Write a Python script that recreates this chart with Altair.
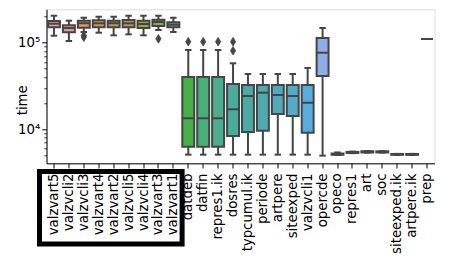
import math
import colorsys
import altair as alt
import pandas as pd

# ---------------- data ----------------
cats = ["valzvart5", "valzvcli2", "valzvcli3", "valzvart4", "valzvart2", "valzvcli5",
        "valzvcli4", "valzvart3", "valzvart1", "datdeb", "datfin", "repres1.ik",
        "dosres", "typcumul.ik", "periode", "artpere", "siteexped", "valzvcli1",
        "opercde", "opeco", "repres1", "art", "soc", "siteexped.ik", "artpere.ik", "prep"]
lo = [120400, 104600, 132900, 130500, 121800, 125000, 121800, 140200, 132900,
      5090, 5090, 5090, 5090, 5090, 5090, 5090, 5090, 5090,
      4958, 5050, 5300, 5380, 5380, 5060, 5060, 110300]
q1 = [150600, 131900, 149000, 150600, 150600, 150600, 147900, 156000, 150600,
      6297, 6297, 6297, 8367, 9307, 9634, 15020, 14240, 9135,
      41260, 5080, 5330, 5400, 5400, 5080, 5080, 110300]
med = [165800, 147900, 167500, 167500, 167500, 167500, 164400, 173400, 161500,
       13400, 13400, 13400, 17020, 24240, 26460, 24890, 24240, 20290,
       76650, 5150, 5400, 5480, 5480, 5130, 5130, 110300]
q3 = [178000, 158800, 179500, 181400, 179500, 182800, 179500, 184300, 172000,
      40200, 40200, 40200, 33350, 32480, 32480, 32480, 32480, 32480,
      113300, 5250, 5480, 5560, 5560, 5180, 5180, 110300]
hi = [205000, 179500, 194400, 199600, 199600, 205000, 205000, 205000, 194400,
      82400, 82400, 82400, 57800, 43500, 43500, 43500, 43500, 51050,
      147800, 5400, 5520, 5600, 5600, 5200, 5200, 110300]
out_cat = ["valzvcli3", "valzvcli3", "valzvart3", "datdeb", "datfin", "repres1.ik",
           "dosres", "dosres"]
out_val = [121000, 116000, 110900, 102700, 102700, 102700, 102700, 80800]


# ---------------- seaborn-like husl palette ----------------
_m = [[3.2406, -1.5372, -0.4986], [-0.9689, 1.8758, 0.0415], [0.0557, -0.2040, 1.0570]]
_refU, _refV, _refY, _lab_k = 0.19784, 0.46834, 1.0, 903.3


def _max_chroma(L, H):
    hrad = math.radians(H)
    sinH, cosH = math.sin(hrad), math.cos(hrad)
    sub1 = (L + 16) ** 3 / 1560896.0
    sub2 = sub1 if sub1 > 0.008856 else L / _lab_k
    result = float("inf")
    for m1, m2, m3 in _m:
        top = (0.99915 * m1 + 1.05122 * m2 + 1.14460 * m3) * sub2
        rbottom = 0.86330 * m3 - 0.17266 * m2
        lbottom = 0.12949 * m3 - 0.38848 * m1
        bottom = (rbottom * sinH + lbottom * cosH) * sub2
        for t in (0.0, 1.0):
            C = L * (top - 1.05122 * t) / (bottom + 0.17266 * sinH * t)
            if 0.0 < C < result:
                result = C
    return result


def _husl_to_rgb(H, S, L):
    C = _max_chroma(L, H) / 100.0 * S
    hrad = math.radians(H)
    U, V = math.cos(hrad) * C, math.sin(hrad) * C
    varY = ((L + 16.0) / 116.0) ** 3 if L > 8 else L / _lab_k
    varU = U / (13.0 * L) + _refU
    varV = V / (13.0 * L) + _refV
    Y = varY * _refY
    X = -(9.0 * Y * varU) / ((varU - 4.0) * varV - varU * varV)
    Z = (9.0 * Y - 15.0 * varV * Y - varV * X) / (3.0 * varV)
    out = []
    for row in _m:
        c = row[0] * X + row[1] * Y + row[2] * Z
        c = 12.92 * c if c <= 0.0031308 else 1.055 * c ** (1 / 2.4) - 0.055
        out.append(min(1.0, max(0.0, c)))
    return out


n = len(cats)
rgbs = []
for i in range(n):
    h = ((i / n + 0.01) % 1) * 359
    r, g, b = _husl_to_rgb(h, 0.9 * 99, 0.7 * 99)
    hh, ll, ss = colorsys.rgb_to_hls(r, g, b)
    rgbs.append(colorsys.hls_to_rgb(hh, ll, ss * 0.75))


def _hex(c):
    return "#%02x%02x%02x" % tuple(int(round(v * 255)) for v in c)


colors = [_hex(c) for c in rgbs]
lum = min(colorsys.rgb_to_hls(*c)[1] for c in rgbs) * 0.6
gray = _hex((lum, lum, lum))

# ---------------- chart ----------------
df = pd.DataFrame({"cat": cats, "lo": lo, "q1": q1, "med": med, "q3": q3, "hi": hi})
dout = pd.DataFrame({"cat": out_cat, "val": out_val})

FONT = "DejaVu Sans"
FS = 13.3

x_enc = alt.X("cat:N",
              scale=alt.Scale(domain=cats, paddingInner=0, paddingOuter=0),
              axis=alt.Axis(title=None, labelAngle=270, labelAlign="right",
                            labelBaseline="middle", labelFontSize=FS, labelFont=FONT,
                            labelColor="black", labelPadding=5, tickSize=4.7,
                            tickColor="black", tickWidth=1, domainColor="black",
                            labelOverlap=False, labelLimit=300))

y_scale = alt.Scale(type="log", domain=[4046, 243200], nice=False)
tick_vals = [5000, 6000, 7000, 8000, 9000, 10000, 20000, 30000, 40000, 50000,
             60000, 70000, 80000, 90000, 100000, 200000]
major = "datum.value == 10000 || datum.value == 100000"
y_axis = alt.Axis(title="time", values=tick_vals,
                  labelExpr="datum.value == 10000 ? '10\u2074' : (datum.value == 100000 ? '10\u2075' : '')",
                  labelFontSize=FS, labelFont=FONT, labelColor="black", labelPadding=2,
                  tickSize={"condition": {"test": major, "value": 4.7}, "value": 2.7},
                  tickWidth={"condition": {"test": major, "value": 1}, "value": 0.8},
                  tickColor="black", domainColor="black", grid=False,
                  titleFontSize=FS, titleFont=FONT, titleFontWeight="normal",
                  titleColor="black", titleX=-24.5, titleY=90.5, titleAngle=270,
                  titleAlign="center", titleBaseline="middle", labelOverlap=False)


def Y(field):
    return alt.Y(field, type="quantitative", scale=y_scale, axis=y_axis)


base = alt.Chart(df)
whisk = base.mark_rule(color=gray, strokeWidth=2).encode(x=x_enc, y=Y("lo"), y2="hi")
cap_lo = base.mark_tick(color=gray, size=6.5, thickness=2, opacity=1).encode(x=x_enc, y=Y("lo"))
cap_hi = base.mark_tick(color=gray, size=6.5, thickness=2, opacity=1).encode(x=x_enc, y=Y("hi"))
box = base.mark_bar(width={"band": 0.8}, stroke=gray, strokeWidth=2, opacity=1).encode(
    x=x_enc, y=Y("q1"), y2="q3",
    fill=alt.Color("cat:N", scale=alt.Scale(domain=cats, range=colors), legend=None))
median = base.mark_tick(color=gray, size=11.9, thickness=2, opacity=1).encode(x=x_enc, y=Y("med"))
fliers = alt.Chart(dout).mark_point(shape="M0,-1L0.6,0L0,1L-0.6,0Z", filled=True, size=75,
                                    color=gray, opacity=1, stroke=gray, strokeWidth=0.8).encode(
    x=x_enc, y=Y("val"))

frame = alt.Chart(alt.Data(values=[{"a": 1}])).mark_rect(
    filled=False, stroke="black", strokeWidth=5).encode(
    x=alt.value(-7), x2=alt.value(135.6), y=alt.value(162.3), y2=alt.value(234.6))

chart = alt.layer(whisk, cap_lo, cap_hi, box, median, fliers, frame).properties(
    width=388, height=154,
    autosize=alt.AutoSizeParams(type="none"),
    padding={"left": 38.5, "top": 1.3, "right": 9, "bottom": 98},
).configure_view(stroke="black", strokeWidth=1).configure(background="white")

chart.save("out.html", embed_options={"renderer": "svg", "actions": False})
